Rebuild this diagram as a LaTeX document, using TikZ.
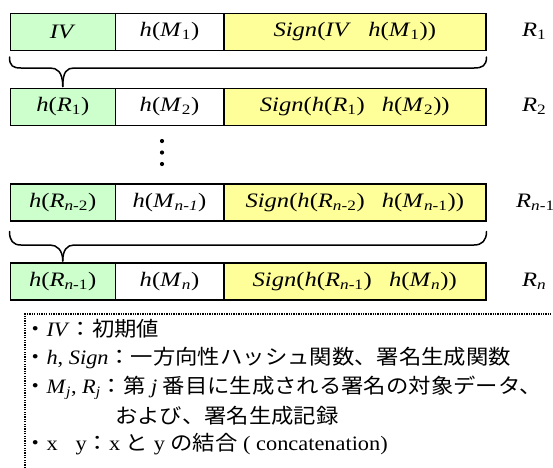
\documentclass[tikz,border=0pt]{standalone}
\usepackage{fontspec}
\usepackage{graphicx}
\setmainfont{Liberation Serif}
\newfontfamily\jp{Noto Sans CJK JP}
\usetikzlibrary{calc}
\definecolor{cgreen}{RGB}{204,255,204}
\definecolor{cyellow}{RGB}{255,255,153}
\newcommand{\wx}[1]{\scalebox{1.2}[1]{#1}}
\newcommand{\wl}[1]{\scalebox{1.09}[1]{#1}}
\newcommand{\sbi}[1]{\textsubscript{\textit{#1}}}
\newcommand{\sbu}[1]{\textsubscript{#1}}
\begin{document}
\begin{tikzpicture}[x=1pt,y=1pt,
  cell/.style={draw=black,line width=1.5pt,anchor=north west,minimum height=37pt,inner sep=0pt,
    font=\fontsize{20.5}{24}\selectfont},
  gcell/.style={cell,fill=cgreen,minimum width=105pt},
  wcell/.style={cell,fill=white,minimum width=108.5pt},
  ycell/.style={cell,fill=cyellow,minimum width=262pt},
  rlabel/.style={anchor=west,inner sep=0pt,font=\fontsize{20.5}{24}\selectfont},
  legend/.style={anchor=west,inner sep=0pt,font=\fontsize{20.5}{24}\selectfont},
  bracestyle/.style={line width=1.5pt,line cap=round,line join=round},
  dotline/.style={line width=1.3pt,dash pattern=on 1.3pt off 1.1pt}
]
\useasboundingbox (0,0) rectangle (553,-467);
% row 1
\node[gcell] (a1) at (9.5,-12.5) {\wx{\textit{IV}}};
\node[wcell] (b1) at (114.5,-12.5) {\wx{\textit{h}(\textit{M}\sbu{1})}};
\node[ycell] (c1) at (223,-12.5) {\wx{\textit{Sign}(\textit{IV}\hspace{0.7em}\textit{h}(\textit{M}\sbu{1}))}};
\node[rlabel] (l1) at (522,-31) {\wx{\textit{R}\sbu{1}}};
% row 2
\node[gcell] (a2) at (9.5,-87.5) {\wx{\textit{h}(\textit{R}\sbu{1})}};
\node[wcell] (b2) at (114.5,-87.5) {\wx{\textit{h}(\textit{M}\sbu{2})}};
\node[ycell] (c2) at (223,-87.5) {\wx{\textit{Sign}(\textit{h}(\textit{R}\sbu{1})\hspace{0.7em}\textit{h}(\textit{M}\sbu{2}))}};
\node[rlabel] (l2) at (522,-106) {\wx{\textit{R}\sbu{2}}};
% dots
\fill (162,-141) circle (2.1);
\fill (162,-152.5) circle (2.1);
\fill (162,-164) circle (2.1);
% row 3
\node[gcell] (a3) at (9.5,-183) {\wx{\textit{h}(\textit{R}\textsubscript{\textit{n}-2})}};
\node[wcell] (b3) at (114.5,-183) {\wx{\textit{h}(\textit{M}\sbi{n-1})}};
\node[ycell] (c3) at (223,-183) {\wx{\textit{Sign}(\textit{h}(\textit{R}\textsubscript{\textit{n}-2})\hspace{0.7em}\textit{h}(\textit{M}\textsubscript{\textit{n}-1}))}};
\node[rlabel] (l3) at (516,-202) {\wx{\textit{R}\textsubscript{\textit{n}-1}}};
% row 4
\node[gcell] (a4) at (9.5,-262) {\wx{\textit{h}(\textit{R}\textsubscript{\textit{n}-1})}};
\node[wcell] (b4) at (114.5,-262) {\wx{\textit{h}(\textit{M}\sbi{n})}};
\node[ycell] (c4) at (223,-262) {\wx{\textit{Sign}(\textit{h}(\textit{R}\textsubscript{\textit{n}-1})\hspace{0.7em}\textit{h}(\textit{M}\sbi{n}))}};
\node[rlabel] (l4) at (522,-281) {\wx{\textit{R}\sbi{n}}};
% braces
\draw[bracestyle] ($(a1.south west)+(0,-6)$) .. controls +(0,-9) and (13,-68) .. (21,-68)
  -- (50,-68) .. controls (57,-68) and ($(a2.north)+(0,16)$) .. ($(a2.north)+(0,1)$);
\draw[bracestyle] ($(a2.north)+(0,1)$) .. controls ($(a2.north)+(0,16)$) and (67,-68) .. (74,-68)
  -- (474,-68) .. controls (482,-68) and ($(c1.south east)+(0,-15)$) .. ($(c1.south east)+(0,-6)$);
\draw[bracestyle] ($(a3.south west)+(0,-10)$) .. controls +(0,-9) and (13,-245) .. (21,-245)
  -- (50,-245) .. controls (57,-245) and ($(a4.north)+(0,12)$) .. ($(a4.north)+(0,1)$);
\draw[bracestyle] ($(a4.north)+(0,1)$) .. controls ($(a4.north)+(0,12)$) and (67,-245) .. (74,-245)
  -- (474,-245) .. controls (482,-245) and ($(c3.south east)+(0,-19)$) .. ($(c3.south east)+(0,-10)$);
% legend frame
\draw[dotline] (25,-468) -- (25,-314) -- (551,-314);
% legend text
\node[legend] (t1) at (24,-329) {\wl{{\jp ・}\textit{IV}{\jp ：初期値}}};
\node[legend] (t2) at (24,-358) {\wl{{\jp ・}\textit{h}, \textit{Sign}{\jp ：一方向性ハッシュ関数、署名生成関数}}};
\node[legend] (t3) at (24,-388) {\wl{{\jp ・}\textit{M}\sbi{j}, \textit{R}\sbi{j}{\jp ：第} \textit{j} {\jp 番目に生成される署名の対象データ、}}};
\node[legend] (t4) at (115,-416) {\wl{{\jp および、署名生成記録}}};
\node[legend] (t5) at (24,-444) {\wl{{\jp ・}x\hspace{0.8em}y{\jp ：}x {\jp と} y {\jp の結合} ( concatenation)}};
\end{tikzpicture}
\end{document}
